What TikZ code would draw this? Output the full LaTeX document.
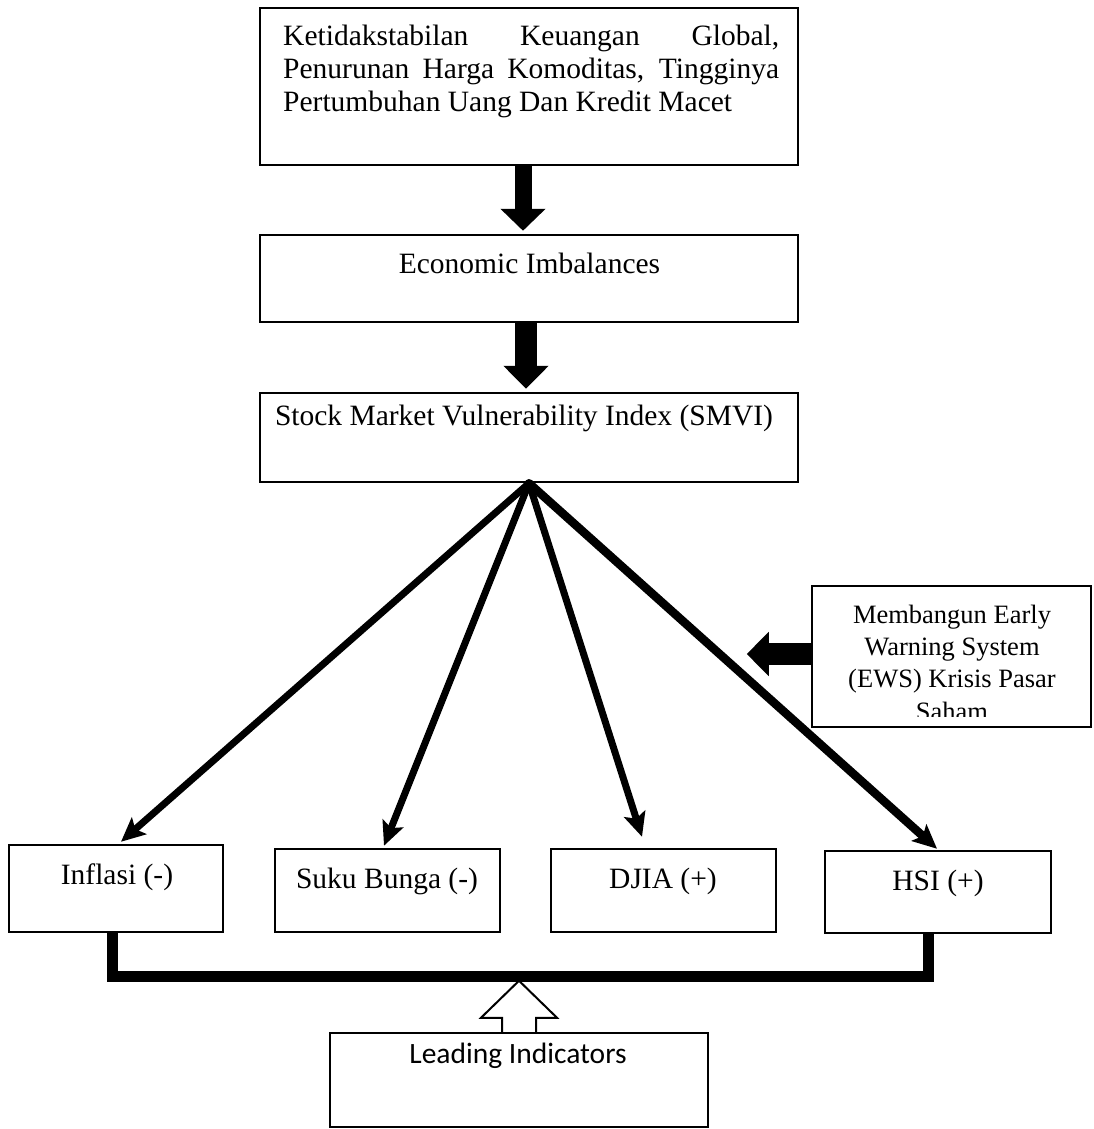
\documentclass[tikz,border=0pt]{standalone}
\usepackage{fontspec}
\setmainfont{Liberation Serif}
\newfontfamily\calib{Carlito}
\usetikzlibrary{arrows.meta}
\begin{document}
\begin{tikzpicture}[x=1pt,y=-1pt,
  box/.style={draw, line width=2.5pt, rectangle, inner sep=0pt},
  txt/.style={inner sep=0pt, anchor=base, font=\fontsize{29.5}{32}\selectfont},
  ewstxt/.style={inner sep=0pt, anchor=base, font=\fontsize{26.5}{32}\selectfont},
  fatarrow/.style={line cap=butt},
  diag/.style={line width=7pt, line cap=round, -{Stealth[length=24pt,width=22pt,inset=5pt]}},
  bracket/.style={line width=11pt, line cap=butt, line join=miter}
]
\useasboundingbox (0,0) rectangle (1093,1129);

% boxes
\node[box, minimum width=538pt, minimum height=157pt] (top) at (529,86.5) {};
\node[box, minimum width=538pt, minimum height=87pt] (eco) at (529,278.5) {};
\node[box, minimum width=538pt, minimum height=89pt] (smvi) at (529,437.5) {};
\node[box, minimum width=214pt, minimum height=87pt] (inf) at (116,888.5) {};
\node[box, minimum width=225pt, minimum height=83pt] (suku) at (387.5,890.5) {};
\node[box, minimum width=225pt, minimum height=83pt] (djia) at (663.5,890.5) {};
\node[box, minimum width=226pt, minimum height=82pt] (hsi) at (938,892) {};
\node[box, minimum width=279pt, minimum height=141pt] (ews) at (951.5,656.5) {};
\node[box, minimum width=378pt, minimum height=94pt] (lead) at (519,1080) {};

% texts
\node[txt, anchor=base west] (t1) at (283,46) {\makebox[496pt][s]{Ketidakstabilan Keuangan Global,}};
\node[txt, anchor=base west] (t2) at (283,79) {\makebox[496pt][s]{Penurunan Harga Komoditas, Tingginya}};
\node[txt, anchor=base west] (t3) at (283,112) {Pertumbuhan Uang Dan Kredit Macet};
\node[txt] (teco) at (529.5,273) {Economic Imbalances};
\node[txt] (tsmvi) at (524,425) {Stock Market Vulnerability Index (SMVI)};
\node[txt] (tinf) at (117,884) {Inflasi (-)};
\node[txt] (tsuku) at (387,888) {Suku Bunga (-)};
\node[txt] (tdjia) at (663,888) {DJIA (+)};
\node[txt] (thsi) at (938,890) {HSI (+)};
\node[txt, font=\calib\fontsize{29.5}{32}\selectfont] (tlead) at (518,1063) {Leading Indicators};
\begin{scope}
  \clip (812,588) rectangle (1091,716);
  \node[ewstxt] (e1) at (952,623) {Membangun Early};
  \node[ewstxt] (e2) at (952,655) {Warning System};
  \node[ewstxt] (e3) at (952,687) {(EWS) Krisis Pasar};
  \node[ewstxt] (e4) at (952,720) {Saham};
\end{scope}

% thick down arrows
\draw[fatarrow, line width=17pt, -{Triangle[length=22pt,width=44pt]}]
  ([xshift=-6pt]top.south) -- ([xshift=-6pt,yshift=3pt]eco.north);
\draw[fatarrow, line width=22pt, -{Triangle[length=23pt,width=44pt]}]
  ([xshift=-3pt]eco.south) -- ([xshift=-3pt,yshift=3pt]smvi.north);

% EWS arrow
\draw[fatarrow, line width=22pt, -{Triangle[length=22pt,width=43pt]}]
  ([yshift=2.5pt]ews.west) -- ++(-64,0);

% diagonal arrows
\draw[diag] (smvi.south) -- ([xshift=5pt,yshift=2pt]inf.north);
\draw[diag] (smvi.south) -- ([xshift=-3.5pt,yshift=2pt]suku.north);
\draw[diag] (smvi.south) -- ([xshift=-21.5pt,yshift=11pt]djia.north);
\draw[diag, line width=8.5pt] (smvi.south) -- ([xshift=-1pt,yshift=1pt]hsi.north);

% bracket
\draw[bracket] ([xshift=-4pt]inf.south) -- ++(0,43) -| ([xshift=-10pt]hsi.south);

% hollow up arrow
\draw[line width=2pt, fill=white, line join=miter]
  ([xshift=-17pt]lead.north) -- ++(0,-14) -- ++(-21,0) -- ++(38,-37)
  -- ++(38,37) -- ++(-21,0) -- ++(0,14);
\end{tikzpicture}
\end{document}
